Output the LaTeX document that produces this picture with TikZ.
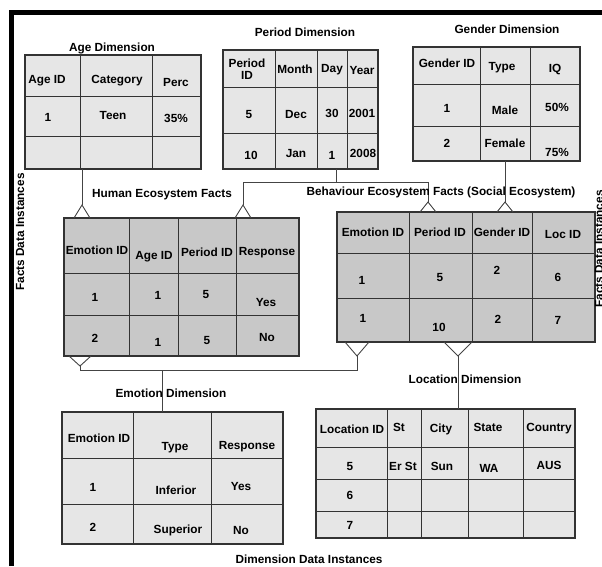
\documentclass[tikz,border=0pt]{standalone}
\usepackage{fontspec}
\setmainfont{Liberation Sans}
\usetikzlibrary{fit,calc}
\definecolor{dimfill}{HTML}{E6E6E6}
\definecolor{factfill}{HTML}{C8C8C8}
\definecolor{rulecol}{HTML}{333333}
\definecolor{wire}{HTML}{444444}

% vertical cell separators: {x list}{top}{bottom}
\newcommand\tabcols[3]{\foreach \cx in {#1} \draw[cellrule] (\cx,#2) -- (\cx,#3);}
% horizontal cell separators: {y list}{left}{right}
\newcommand\tabrows[3]{\foreach \ry in {#1} \draw[cellrule] (#2,\ry) -- (#3,\ry);}
% text placed by the optical middle of its capitals
\newcommand\celltext[4]{\node[txt, anchor=base] (#1) at (#2,#3+4.2) {#4};}
% crow's foot: {edge point}{apex}{half width}
\newcommand\crowfoot[3]{\draw[link] ($(#1)+(-#3,0)$) -- (#2) -- ($(#1)+(#3,0)$);}

\begin{document}
\begin{tikzpicture}[x=1pt,y=-1pt,
  tab/.style={draw=rulecol, line width=1.2pt, inner sep=0pt, outer sep=0pt},
  dimtab/.style={tab, fill=dimfill},
  facttab/.style={tab, fill=factfill},
  cellrule/.style={draw=rulecol, line width=1pt},
  txt/.style={font=\bfseries\fontsize{11.8}{12.5}\selectfont, inner sep=0pt, align=center},
  link/.style={draw=wire, line width=0.9pt},
  frameline/.style={draw=black, line width=4.6pt},
]
\useasboundingbox (0,0) rectangle (602,566);

% outer frame
\draw[frameline] (11.6,566) -- (11.6,12.5) -- (602,12.5);

% ---------- tables ----------
\node[dimtab, fit={(25,55) (201,169)}] (age) {};
\tabcols{80,152}{55}{169}
\tabrows{96,136}{25}{201}

\node[dimtab, fit={(223,50) (378,169)}] (per) {};
\tabcols{275,317,347}{50}{169}
\tabrows{87,133}{223}{378}

\node[dimtab, fit={(413,47) (580,161)}] (gen) {};
\tabcols{480,530}{47}{161}
\tabrows{84,126}{413}{580}

\node[facttab, fit={(64,218) (299,356)}] (hef) {};
\tabcols{129,178,236}{218}{356}
\tabrows{273,315}{64}{299}

\node[facttab, fit={(337,212) (595,342)}] (bef) {};
\tabcols{409,472,532}{212}{342}
\tabrows{253,298}{337}{595}

\node[dimtab, fit={(62,412) (283,544)}] (emo) {};
\tabcols{133,211}{412}{544}
\tabrows{458,504}{62}{283}

\node[dimtab, fit={(316,409) (575,538)}] (loc) {};
\tabcols{387,421,468,523}{409}{538}
\tabrows{447,479,511}{316}{575}

% ---------- connectors ----------
\coordinate (k1) at (82,0);
\coordinate (k2) at (336,0);
\coordinate (k3) at (243,0);
\coordinate (k4) at (428,0);
\coordinate (k5) at (505,0);
\coordinate (k6) at (80,0);
\coordinate (k7) at (357,0);
\coordinate (k8) at (162,0);
\coordinate (k9) at (458,0);

% age -> human facts
\coordinate (eA) at (hef.north -| k1);
\draw[link] (age.south -| k1) -- ($(eA)+(0,-13)$) coordinate (fA);
\crowfoot{eA}{fA}{8}

% period -> both fact tables
\draw[link] (per.south -| k2) -- ++(0,13) coordinate (jB);
\draw[link] (jB -| k3) -- (jB -| k4);
\coordinate (eB1) at (hef.north -| k3);
\draw[link] (jB -| k3) -- ($(eB1)+(0,-13)$) coordinate (fB1);
\crowfoot{eB1}{fB1}{8}
\coordinate (eB2) at (bef.north -| k4);
\draw[link] (jB -| k4) -- ($(eB2)+(0,-10)$) coordinate (fB2);
\crowfoot{eB2}{fB2}{8}

% gender -> behaviour facts
\coordinate (eC) at (bef.north -| k5);
\draw[link] (gen.south -| k5) -- ($(eC)+(0,-10)$) coordinate (fC);
\crowfoot{eC}{fC}{8}

% both fact tables -> emotion dimension
\coordinate (eD1) at (hef.south -| k6);
\coordinate (fD1) at ($(eD1)+(0,10)$);
\crowfoot{eD1}{fD1}{11}
\coordinate (eD2) at (bef.south -| k7);
\coordinate (fD2) at ($(eD2)+(0,14)$);
\crowfoot{eD2}{fD2}{12}
\draw[link] (fD1) -- ++(0,4) coordinate (jD) -- (jD -| fD2) -- (fD2);
\draw[link] (jD -| k8) -- (emo.north -| k8);

% behaviour facts -> location dimension
\coordinate (eE) at (bef.south -| k9);
\coordinate (fE) at ($(eE)+(0,14)$);
\crowfoot{eE}{fE}{14}
\draw[link] (fE) -- (loc.north -| k9);

% ---------- titles ----------
\celltext{tAge}{112}{47}{Age Dimension}
\celltext{tPer}{305}{32}{Period Dimension}
\celltext{tGen}{507}{29}{Gender Dimension}
\celltext{tHef}{162}{193}{Human Ecosystem Facts}
\celltext{tBef}{441}{191}{Behaviour Ecosystem Facts (Social Ecosystem)}
\celltext{tEmo}{171}{393}{Emotion Dimension}
\celltext{tLoc}{465}{379}{Location Dimension}
\celltext{tDim}{309}{559}{Dimension Data Instances}
\node[txt, rotate=90, anchor=base] (tFactsL) at (24,232) {Facts Data Instances};
\node[txt, rotate=90, anchor=base] (tFactsR) at (603,249) {Facts Data Instances};

% ---------- age dimension ----------
\celltext{a1}{47}{79}{Age ID}
\celltext{a2}{117}{79}{Category}
\celltext{a3}{176}{82}{Perc}
\celltext{a4}{48}{117}{1}
\celltext{a5}{113}{115}{Teen}
\celltext{a6}{176}{118}{35\%}

% ---------- period dimension ----------
\node[txt] (p1) at (247,69) {Period\\ID};
\celltext{p2}{295}{69}{Month}
\celltext{p3}{332}{68}{Day}
\celltext{p4}{362}{70}{Year}
\celltext{p5}{249}{114}{5}
\celltext{p6}{296}{114}{Dec}
\celltext{p7}{332}{113}{30}
\celltext{p8}{362}{113}{2001}
\celltext{p9}{251}{155}{10}
\celltext{p10}{296}{153}{Jan}
\celltext{p11}{332}{155}{1}
\celltext{p12}{363}{153}{2008}

% ---------- gender dimension ----------
\celltext{g1}{447}{63}{Gender ID}
\celltext{g2}{502}{66}{Type}
\celltext{g3}{555}{68}{IQ}
\celltext{g4}{447}{108}{1}
\celltext{g5}{505}{110}{Male}
\celltext{g6}{557}{107}{50\%}
\celltext{g7}{447}{143}{2}
\celltext{g8}{505}{143}{Female}
\celltext{g9}{557}{152}{75\%}

% ---------- human ecosystem facts ----------
\celltext{h1}{97}{250}{Emotion ID}
\celltext{h2}{154}{255}{Age ID}
\celltext{h3}{207}{252}{Period ID}
\celltext{h4}{267}{251}{Response}
\celltext{h5}{95}{297}{1}
\celltext{h6}{158}{295}{1}
\celltext{h7}{206}{294}{5}
\celltext{h8}{266}{302}{Yes}
\celltext{h9}{95}{338}{2}
\celltext{h10}{158}{342}{1}
\celltext{h11}{207}{340}{5}
\celltext{h12}{267}{337}{No}

% ---------- behaviour ecosystem facts ----------
\celltext{b1}{373}{232}{Emotion ID}
\celltext{b2}{440}{232}{Period ID}
\celltext{b3}{502}{232}{Gender ID}
\celltext{b4}{563}{234}{Loc ID}
\celltext{b5}{362}{280}{1}
\celltext{b6}{440}{277}{5}
\celltext{b7}{497}{270}{2}
\celltext{b8}{558}{277}{6}
\celltext{b9}{363}{318}{1}
\celltext{b10}{439}{327}{10}
\celltext{b11}{498}{319}{2}
\celltext{b12}{558}{320}{7}

% ---------- emotion dimension ----------
\celltext{e1}{99}{438}{Emotion ID}
\celltext{e2}{175}{446}{Type}
\celltext{e3}{247}{445}{Response}
\celltext{e4}{93}{487}{1}
\celltext{e5}{176}{490}{Inferior}
\celltext{e6}{241}{486}{Yes}
\celltext{e7}{93}{527}{2}
\celltext{e8}{178}{529}{Superior}
\celltext{e9}{241}{530}{No}

% ---------- location dimension ----------
\celltext{l1}{352}{429}{Location ID}
\celltext{l2}{399}{427}{St}
\celltext{l3}{441}{428}{City}
\celltext{l4}{488}{427}{State}
\celltext{l5}{549}{427}{Country}
\celltext{l6}{350}{466}{5}
\celltext{l7}{403}{466}{Er St}
\celltext{l8}{442}{466}{Sun}
\celltext{l9}{489}{468}{WA}
\celltext{l10}{549}{465}{AUS}
\celltext{l11}{350}{495}{6}
\celltext{l12}{350}{525}{7}
\end{tikzpicture}
\end{document}
